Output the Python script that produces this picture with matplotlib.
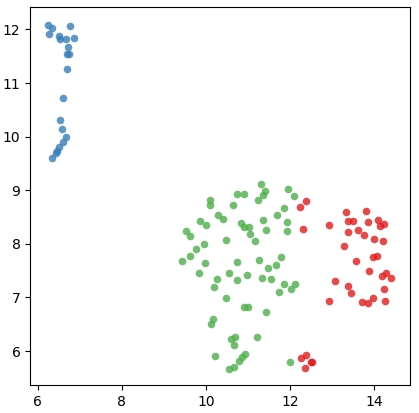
import matplotlib
matplotlib.use('Agg')
import matplotlib.pyplot as plt

# Datos de cada grupo
blue_x = [6.24, 6.35, 6.27, 6.76, 6.50, 6.52, 6.67, 6.87, 6.73, 6.69, 6.74, 6.69,
          6.61, 6.52, 6.57, 6.68, 6.59, 6.51, 6.46, 6.44, 6.35]
blue_y = [12.08, 12.02, 11.91, 12.06, 11.87, 11.82, 11.83, 11.84, 11.67, 11.54, 11.54, 11.26,
          10.72, 10.31, 10.14, 9.99, 9.90, 9.80, 9.74, 9.70, 9.60]

green_x = [11.32, 11.96, 11.40, 11.36, 11.25, 10.74, 10.90, 12.09, 10.09, 10.10, 10.65, 11.86,
           11.68, 10.29, 10.41, 11.37, 9.87, 10.00, 10.83, 10.91, 11.02, 11.92, 11.44, 11.92,
           9.53, 9.62, 11.04, 10.47, 11.16, 9.95, 9.77, 9.63, 9.44, 9.99, 10.73, 11.27,
           11.79, 11.47, 11.66, 9.84, 10.55, 10.98, 10.26, 10.74, 11.33, 11.56, 10.19, 11.85,
           12.12, 12.03, 11.74, 10.47, 10.91, 11.00, 11.44, 10.17, 10.13, 10.59, 10.69, 10.68,
           11.21, 10.22, 10.92, 10.87, 10.78, 10.66, 10.55, 12.01]
green_y = [9.11, 9.03, 8.99, 8.91, 8.82, 8.93, 8.93, 8.89, 8.82, 8.72, 8.72, 8.66,
           8.54, 8.54, 8.47, 8.45, 8.43, 8.35, 8.39, 8.31, 8.31, 8.41, 8.25, 8.24,
           8.24, 8.15, 8.18, 8.08, 8.06, 7.99, 7.90, 7.77, 7.68, 7.65, 7.66, 7.69,
           7.76, 7.54, 7.60, 7.46, 7.45, 7.42, 7.34, 7.32, 7.37, 7.34, 7.19, 7.25,
           7.25, 7.16, 7.10, 6.99, 6.82, 6.82, 6.73, 6.59, 6.50, 6.23, 6.26, 6.12,
           6.27, 5.90, 5.95, 5.89, 5.82, 5.71, 5.67, 5.79]

red_x = [13.08, 13.38, 13.46, 12.92, 12.26, 12.37, 12.51, 12.53, 12.36, 12.38, 12.24, 12.32,
         12.92, 13.34, 13.80, 13.38, 13.49, 13.86, 14.10, 14.24, 14.15, 13.37, 13.63, 13.77,
         14.00, 14.22, 13.28, 13.58, 13.98, 14.06, 13.88, 14.29, 14.18, 14.41, 14.23, 13.71,
         13.86, 13.98, 14.25]
red_y = [7.30, 7.21, 7.08, 6.94, 5.87, 5.93, 5.79, 5.79, 5.68, 8.80, 8.69, 8.27,
         8.36, 8.59, 8.62, 8.42, 8.43, 8.41, 8.44, 8.37, 8.34, 8.22, 8.26, 8.16,
         8.09, 8.05, 7.95, 7.68, 7.76, 7.77, 7.50, 7.46, 7.40, 7.36, 7.15, 6.92,
         6.89, 6.98, 6.94]

# Figura
fig = plt.figure(figsize=(4.19, 4.13), dpi=100)
ax = fig.add_axes([0.072, 0.067, 0.907, 0.915])

ax.scatter(blue_x, blue_y, color='#377eb8', s=30, alpha=0.8, linewidths=0)
ax.scatter(green_x, green_y, color='#4daf4a', s=30, alpha=0.8, linewidths=0)
ax.scatter(red_x, red_y, color='#e41a1c', s=30, alpha=0.8, linewidths=0)

ax.set_xlim(5.82, 14.86)
ax.set_ylim(5.36, 12.41)
ax.set_xticks([6, 8, 10, 12, 14])
ax.set_yticks([6, 7, 8, 9, 10, 11, 12])
ax.tick_params(labelsize=10)

fig.savefig('out.png', dpi=100)
